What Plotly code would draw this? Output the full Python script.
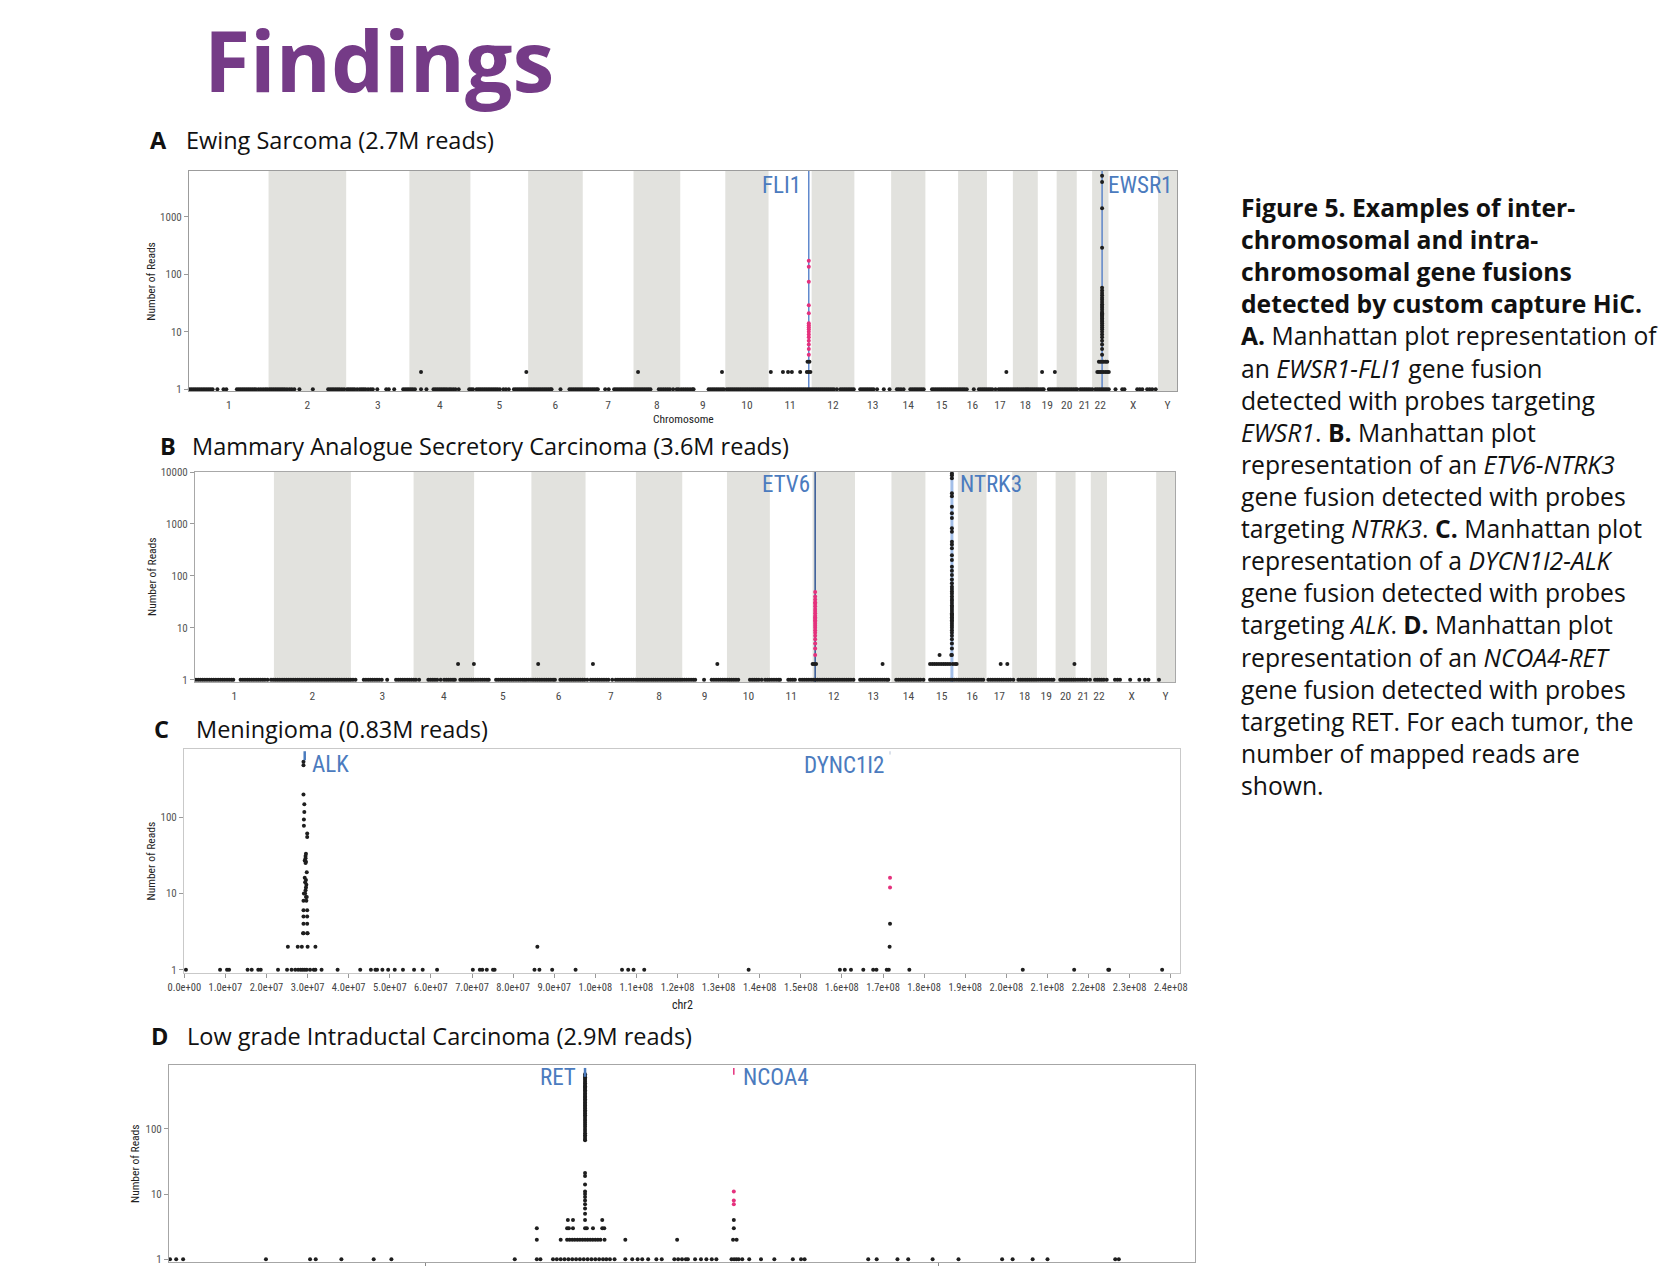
import plotly.graph_objects as go

W, H = 1670, 1266
NARROW = "Liberation Sans Narrow, Arial Narrow, Roboto Condensed, Liberation Sans, Arial, sans-serif"
BODY = "Open Sans, Lato, sans-serif"

# ---------------- data ----------------
chrom_names = [str(i) for i in range(1, 23)] + ["X", "Y"]
chrom_len_mb = [249.3, 243.2, 198.0, 191.2, 180.9, 171.1, 159.1, 146.4, 141.2, 135.5, 135.0, 133.9,
                115.2, 107.3, 102.5, 90.4, 81.2, 78.1, 59.1, 63.0, 48.1, 51.3, 155.3, 59.4]

# Panel A (genome-wide cumulative position, Mb)
A_reads1 = [2, 8, 14, 20, 26, 32, 38, 44, 50, 56, 62, 68, 74, 89, 108, 117, 150, 156, 162, 168, 174, 180, 186,
            192, 198, 204, 210, 218, 225, 232, 239, 245,
            252, 258, 264, 270, 276, 282, 288, 294, 300, 307, 315, 322, 330, 346, 388, 436, 442, 448, 454, 460,
            466, 472, 479, 486,
            495, 501, 507, 513, 519, 527, 535, 541, 547, 553, 561, 569, 576, 590, 618, 626, 643, 671, 677, 683, 689,
            695, 701, 708, 727, 744, 766, 772, 778, 784, 790, 796, 802, 808, 815, 821, 828, 835, 845,
            878, 884, 890, 901, 907, 913, 919, 925, 931, 937, 943, 949, 955, 961, 967, 974, 985, 993, 1002,
            1018, 1024, 1030, 1036, 1042, 1048, 1054, 1060,
            1066, 1072, 1078, 1084, 1090, 1096, 1102, 1108, 1114, 1120, 1126, 1132, 1136, 1164, 1192, 1198, 1204,
            1210, 1216, 1222, 1228,
            1234, 1240, 1246, 1252, 1258, 1264, 1270, 1276, 1281, 1304, 1315, 1332, 1338, 1344, 1350, 1356, 1362,
            1368, 1374, 1380, 1386,
            1392, 1398, 1404, 1410, 1416, 1422, 1428, 1434, 1440, 1446, 1472, 1479, 1486, 1493, 1500, 1507, 1517,
            1528, 1534,
            1542, 1549, 1556, 1563, 1570, 1577, 1581, 1628, 1634, 1640, 1646, 1652, 1658, 1664, 1670, 1676,
            1685, 1691, 1697, 1703, 1709, 1715, 1721, 1727, 1733, 1739, 1745, 1751, 1757, 1763, 1769, 1775, 1781,
            1787, 1793, 1799, 1805, 1811,
            1817, 1823, 1829, 1835, 1841, 1847, 1853, 1859, 1865, 1871, 1877, 1883, 1889, 1895, 1901, 1907, 1913,
            1919, 1925, 1931, 1937, 1943, 1949,
            1955, 1961, 1967, 1973, 1979, 1985, 1991, 1997, 2003, 2009, 2015, 2021, 2030, 2041, 2047, 2053, 2059,
            2065, 2071, 2077, 2083,
            2103, 2109, 2115, 2121, 2127, 2133, 2139, 2145, 2156, 2177, 2195,
            2218, 2224, 2231, 2239, 2260, 2266, 2272, 2278, 2284, 2290, 2296, 2302,
            2328, 2334, 2340, 2346, 2352, 2358, 2364, 2370, 2376, 2382, 2388, 2394, 2400, 2406,
            2412, 2418, 2424, 2430, 2437, 2459, 2475, 2481, 2487, 2493, 2499,
            2505, 2511, 2517, 2527, 2537, 2543, 2549, 2555, 2561, 2567, 2573, 2579,
            2585, 2591, 2597, 2603, 2609, 2615, 2621, 2626, 2631, 2637, 2643, 2649, 2655,
            2661, 2667, 2673, 2678, 2694, 2700, 2706, 2712,
            2718, 2724, 2730, 2736, 2742, 2748, 2754, 2760, 2766, 2772, 2778, 2783,
            2793, 2799, 2805, 2811, 2817, 2823, 2830,
            2840, 2846, 2852, 2858, 2864, 2870, 2876, 2882,
            2903, 2924, 2931, 2971, 2979, 2987, 3002, 3010, 3018, 3029]
A_reads2 = [727, 1057, 1407, 1670, 1823, 1861, 1877, 1889, 1915, 1936, 1941, 1947, 2561, 2673, 2713,
            2846, 2851, 2856, 2866, 2872, 2877, 2882]
A_reads3 = [1938, 1944, 2851, 2856, 2866, 2872, 2877]
A_probe_gene, A_probe_pos = "EWSR1", 2861
A_probe_reads = [5160, 4010, 1400, 289, 58, 52, 47, 43, 39, 36, 33, 30, 28, 26, 24, 22, 21, 20, 19, 18, 17, 16,
                 15, 14, 13, 12, 11, 10, 9, 8, 7, 6, 5, 4, 3, 2]
A_partner_gene, A_partner_pos = "FLI1", 1942
A_partner_reads = [4, 5, 6, 7, 8, 9, 10, 11, 12, 13, 14, 21, 29, 74, 135, 172]

# Panel B (genome-wide cumulative position, Mb)
B_reads1 = [3, 10, 17, 24, 31, 38, 45, 52, 59, 66, 73, 80, 87, 94, 101, 108, 115, 121,
            144, 151, 158, 165, 172, 179, 186, 193, 200, 207, 214, 221, 229,
            240, 247, 254, 261, 268, 275, 282, 289, 296, 303, 310, 317, 324, 331, 338, 345, 352, 359, 366, 373,
            380, 387, 394, 401, 408, 415, 422, 429, 436, 443, 450, 457, 464, 471, 478, 485, 492, 499, 507,
            533, 540, 547, 554, 561, 568, 575, 582, 590, 607,
            635, 642, 649, 656, 663, 670, 677, 684, 691, 698, 708,
            737, 744, 751, 758, 765, 776, 787, 794, 801, 808, 815, 821,
            838, 845, 852, 859, 866, 873, 880, 887, 894, 901, 908, 915, 922, 928,
            951, 958, 965, 972, 979, 986, 993, 1000, 1007, 1014, 1021, 1028, 1035, 1041,
            1047, 1054, 1061, 1068, 1075, 1082, 1089, 1096, 1103, 1110, 1117, 1124, 1131, 1137,
            1154, 1161, 1168, 1175, 1182, 1189, 1196, 1203, 1210, 1217, 1224, 1231, 1239,
            1250, 1257, 1264, 1271, 1278, 1285, 1292, 1299, 1306, 1318,
            1329, 1336, 1343, 1350, 1357, 1364, 1371, 1378, 1385, 1392, 1399, 1406, 1413, 1420, 1427, 1434,
            1441, 1448, 1455, 1462, 1469, 1476, 1483, 1490, 1497, 1504, 1511, 1518, 1525, 1532,
            1539, 1546, 1553, 1560, 1567, 1574, 1580, 1608,
            1632, 1639, 1646, 1653, 1660, 1667, 1674, 1681, 1688, 1695, 1702, 1709, 1716,
            1753, 1760, 1767, 1774, 1781, 1790, 1801, 1808, 1815, 1822, 1829, 1836, 1843, 1848,
            1874, 1881, 1888, 1895,
            1911, 1918, 1925, 1932, 1939, 1946, 1953, 1960, 1967, 1974, 1981, 1988, 1995, 2002, 2009, 2016,
            2023, 2030, 2037, 2044, 2051, 2058, 2065, 2072, 2080,
            2101, 2108, 2115, 2122, 2129, 2136, 2143, 2150, 2157, 2164, 2171, 2178, 2185, 2190,
            2215, 2222, 2229, 2236, 2243, 2250, 2257, 2264, 2271, 2278, 2285, 2292, 2301,
            2322, 2329, 2336, 2343, 2350, 2357, 2364, 2371, 2378, 2385, 2392, 2399, 2406, 2413, 2420, 2427,
            2434, 2441, 2448, 2455, 2462, 2469, 2476, 2483, 2490,
            2506, 2513, 2520, 2527, 2534, 2541, 2548, 2555, 2562, 2569, 2576, 2585,
            2601, 2608, 2615, 2622, 2629, 2636, 2643, 2650, 2657, 2664, 2671, 2678, 2685, 2692, 2699, 2706, 2712,
            2733, 2740, 2747, 2754, 2761, 2768, 2775, 2782, 2789, 2796, 2803, 2810, 2817, 2827,
            2843, 2850, 2857, 2864, 2871, 2880, 2906, 2914, 2922, 2954, 2983, 3001, 3012, 3045]
B_reads2 = [831, 881, 1084, 1257, 1650, 1951, 1956, 1962, 2172, 2322, 2329, 2336, 2343, 2350, 2357, 2364, 2371,
            2378, 2385, 2394, 2401, 2406, 2545, 2566, 2778]
B_reads3 = [2352, 2389]
B_probe_gene, B_probe_pos = "NTRK3", 2391
B_probe_reads = [9400, 8700, 7600, 3900, 3400, 2150, 1600, 1300, 830, 710, 455, 400, 340, 250, 203, 150, 125, 104,
                 85, 72, 62, 56, 50, 45, 40, 36, 33, 30, 27, 25, 23, 21, 19, 18, 17, 16, 15, 14, 13, 12, 11, 10,
                 9, 8, 7, 6, 5, 4, 3]
B_partner_gene, B_partner_pos = "ETV6", 1959
B_partner_reads = [3, 4, 5, 6, 7, 8, 9, 10, 11, 12, 13, 14, 15, 16, 17, 19, 21, 23, 26, 29, 31, 35, 40, 49]

# Panel C (chr2 position, Mb)
C_reads1 = [0.4, 8.7, 10.4, 10.9, 15.4, 16.4, 18.0, 18.6, 22.8, 25.0, 26.1, 27.0, 27.7, 28.3, 28.8, 29.3, 29.8,
            30.6, 31.5, 31.9, 33.4, 37.3, 42.8, 45.4, 46.5, 46.9, 48.2, 49.6, 51.2, 53.2, 55.9, 58.0, 61.5, 70.2,
            71.9, 72.5, 73.6, 75.1, 75.5, 85.2, 86.4, 89.5, 95.2, 106.5, 108.0, 109.3, 111.9, 137.3, 159.5,
            160.7, 162.2, 165.2, 167.6, 168.4, 170.9, 171.4, 176.4, 204.0, 216.5, 224.8, 225.0, 237.9]
C_reads2 = [25.2, 27.6, 28.6, 30.0, 31.9, 85.9, 171.6]
C_reads3 = [28.9, 30.0]
C_reads4 = [171.7]
C_probe_gene, C_probe_marker = "ALK", 29.3
C_probe_pos = [29.0, 29.0, 29.0, 29.2, 29.2, 29.1, 29.1, 29.9, 29.9, 29.6, 29.5, 29.5, 29.3, 29.6, 29.5, 29.8,
               29.3, 29.6, 29.4, 29.7, 29.6, 29.5, 29.1, 29.4, 29.6, 29.8, 29.0, 29.7, 29.0, 29.9, 29.0, 29.9,
               29.0, 29.9, 29.0, 29.9]
C_probe_reads = [530, 480, 198, 148, 117, 93, 77, 61, 55, 33, 31, 29, 27, 26, 25, 19, 16, 15, 14, 13, 12, 11, 10,
                 10, 9, 9, 8, 8, 6, 6, 5, 5, 4, 4, 3, 3]
C_partner_gene, C_partner_pos = "DYNC1I2", 171.7
C_partner_reads = [12, 16]
C_ticks_bp = [0, 1e7, 2e7, 3e7, 4e7, 5e7, 6e7, 7e7, 8e7, 9e7, 1e8, 1.1e8, 1.2e8, 1.3e8, 1.4e8, 1.5e8, 1.6e8,
              1.7e8, 1.8e8, 1.9e8, 2.0e8, 2.1e8, 2.2e8, 2.3e8, 2.4e8]

# Panel D (chromosome position, Mb)
D_reads1 = [30.04, 30.28, 30.55, 33.78, 35.50, 35.72, 36.72, 37.98, 38.67, 43.48, 44.34, 44.48, 44.97, 45.12,
            45.27, 45.42, 45.57, 45.72, 45.87, 46.02, 46.17, 46.32, 46.47, 46.62, 46.77, 46.92, 47.05, 47.19,
            47.37, 47.79, 48.06, 48.27, 48.45, 48.68, 49.0, 49.21, 49.70, 49.85, 50.0, 50.15, 50.23, 50.51,
            50.74, 50.95, 51.16, 51.34, 51.93, 52.03, 52.12, 52.21, 52.35, 52.62, 53.08, 53.6, 54.32, 54.64,
            54.78, 57.26, 57.59, 58.40, 58.82, 59.77, 60.78, 62.48, 62.89, 63.67, 64.25, 66.89, 67.03]
D_reads2 = [44.34, 45.27, 45.52, 45.62, 45.72, 45.82, 45.92, 46.02, 46.12, 46.32, 46.42, 46.52, 46.62, 46.72,
            46.82, 46.98, 47.79, 49.81, 51.99, 52.13]
D_reads3 = [44.34, 45.52, 45.59, 45.75, 46.29, 46.53, 46.89, 46.97, 52.02]
D_reads4 = [45.55, 45.75, 46.89, 52.02]
D_probe_gene, D_probe_pos = "RET", 46.22
D_probe_reads = [690, 650, 620, 590, 560, 530, 500, 470, 450, 430, 410, 390, 370, 350, 330, 315, 300, 285, 270,
                 255, 240, 228, 216, 205, 194, 183, 172, 162, 152, 142, 133, 124, 116, 108, 100, 93, 86, 80, 75,
                 70, 67, 21, 19, 14, 11, 10, 9, 8, 7, 6, 5, 4, 3, 2]
D_partner_gene, D_partner_pos = "NCOA4", 52.02
D_partner_reads = [7, 8, 11]
D_ticks_mb = [40, 60]

headings = [("A", "Ewing Sarcoma (2.7M reads)"),
            ("B", "Mammary Analogue Secretory Carcinoma (3.6M reads)"),
            ("C", "Meningioma (0.83M reads)"),
            ("D", "Low grade Intraductal Carcinoma (2.9M reads)")]

caption_lines = [
    "<b>Figure 5. Examples of inter-</b>",
    "<b>chromosomal and intra-</b>",
    "<b>chromosomal gene fusions</b>",
    "<b>detected by custom capture HiC.</b>",
    "<b>A.</b> Manhattan plot representation of",
    "an <i>EWSR1-FLI1</i> gene fusion",
    "detected with probes targeting",
    "<i>EWSR1</i>. <b>B.</b> Manhattan plot",
    "representation of an <i>ETV6-NTRK3</i>",
    "gene fusion detected with probes",
    "targeting <i>NTRK3</i>. <b>C.</b> Manhattan plot",
    "representation of a <i>DYCN1I2-ALK</i>",
    "gene fusion detected with probes",
    "targeting <i>ALK</i>. <b>D.</b> Manhattan plot",
    "representation of an <i>NCOA4-RET</i>",
    "gene fusion detected with probes",
    "targeting RET. For each tumor, the",
    "number of mapped reads are",
    "shown.",
]

# ---------------- derived genome layout ----------------
chrom_start = []
acc = 0.0
for L in chrom_len_mb:
    chrom_start.append(acc)
    acc += L
genome_total = acc
chrom_mid = [s + L / 2 for s, L in zip(chrom_start, chrom_len_mb)]

# ---------------- figure ----------------
BLACK = "#1e1e1e"
PINK = "#e5317d"
BAND = "#e2e2de"
LABEL_BLUE = "#4b7bbe"

fig = go.Figure()


def fx(px):
    return px / W


def fy(py):
    return 1 - py / H


def add_pts(xs, ys, color, k):
    fig.add_trace(go.Scatter(
        x=xs, y=ys, mode="markers",
        marker=dict(size=4, color=color, line=dict(width=0)),
        xaxis="x" if k == 1 else f"x{k}", yaxis="y" if k == 1 else f"y{k}",
        cliponaxis=False, hoverinfo="skip", showlegend=False))


def black_points(r1, r2, r3, probe_x, probe_reads, r4=()):
    xs = list(r1) + list(r2) + list(r3) + list(r4)
    ys = [1] * len(r1) + [2] * len(r2) + [3] * len(r3) + [4] * len(r4)
    if isinstance(probe_x, (list, tuple)):
        xs += list(probe_x)
    else:
        xs += [probe_x] * len(probe_reads)
    ys += list(probe_reads)
    return xs, ys


xs, ys = black_points(A_reads1, A_reads2, A_reads3, A_probe_pos, A_probe_reads)
add_pts(xs, ys, BLACK, 1)
add_pts([A_partner_pos] * len(A_partner_reads), A_partner_reads, PINK, 1)
xs, ys = black_points(B_reads1, B_reads2, B_reads3, B_probe_pos, B_probe_reads)
add_pts(xs, ys, BLACK, 2)
add_pts([B_partner_pos] * len(B_partner_reads), B_partner_reads, PINK, 2)
xs, ys = black_points(C_reads1, C_reads2, C_reads3, C_probe_pos, C_probe_reads, C_reads4)
add_pts(xs, ys, BLACK, 3)
add_pts([C_partner_pos] * len(C_partner_reads), C_partner_reads, PINK, 3)
xs, ys = black_points(D_reads1, D_reads2, D_reads3, D_probe_pos, D_probe_reads, D_reads4)
add_pts(xs, ys, BLACK, 4)
add_pts([D_partner_pos] * len(D_partner_reads), D_partner_reads, PINK, 4)

# panel boxes (pixel geometry: left, right, top, bottom)
boxes = {1: (189, 1177, 171, 391), 2: (195, 1175, 472, 682), 3: (184, 1180, 749, 973), 4: (169, 1195, 1065, 1262)}
yranges = {1: [-0.03, 3.794], 2: [-0.044, 4.0], 3: [-0.043, 2.893], 4: [-0.041, 2.98]}
ytv = {1: [1, 10, 100, 1000], 2: [1, 10, 100, 1000, 10000], 3: [1, 10, 100], 4: [1, 10, 100]}
frame = {1: "#9c9c9c", 2: "#a8a8a8", 3: "#c9c9c9", 4: "#a6a6a6"}

tickfont = dict(family=NARROW, size=11, color="#555555")
layout_axes = {}
for k, (l, r, t, b) in boxes.items():
    xn = "xaxis" if k == 1 else f"xaxis{k}"
    yn = "yaxis" if k == 1 else f"yaxis{k}"
    xa = dict(domain=[fx(l), fx(r)], anchor="y" if k == 1 else f"y{k}", showgrid=False, zeroline=False,
              showline=True, linecolor=frame[k], linewidth=1, mirror=True, tickfont=tickfont, automargin=False)
    if k in (1, 2):
        xa.update(range=[0, genome_total], tickmode="array", tickvals=chrom_mid, ticktext=chrom_names,
                  ticks="outside", ticklen=3, tickcolor="rgba(0,0,0,0)",
                  tickfont=dict(family=NARROW, size=11.5, color="#4a4a4a"))
    elif k == 3:
        xa.update(range=[-0.07, 242.25], tickmode="array", tickvals=[v / 1e6 for v in C_ticks_bp],
                  ticktext=[f"{v:.1e}" for v in C_ticks_bp], ticks="outside", ticklen=4, tickcolor="#999999",
                  tickfont=dict(family=NARROW, size=10.5, color="#444444"))
    else:
        xa.update(range=[30, 70], tickmode="array", tickvals=D_ticks_mb, ticktext=["", ""],
                  ticks="outside", ticklen=6, tickcolor="#888888", showticklabels=False)
    ya = dict(domain=[fy(b), fy(t)], anchor="x" if k == 1 else f"x{k}", type="log", range=yranges[k],
              tickmode="array", tickvals=ytv[k], ticktext=[str(v) for v in ytv[k]], ticks="outside",
              ticklen=4, tickcolor="#9a9a9a", showgrid=False, zeroline=False, showline=True,
              linecolor=frame[k], linewidth=1, mirror=True, tickfont=tickfont, automargin=False,
              ticklabeloverflow="allow")
    layout_axes[xn] = xa
    layout_axes[yn] = ya

shapes = []
for k in (1, 2):
    xr = "x" if k == 1 else f"x{k}"
    yr = "y domain" if k == 1 else f"y{k} domain"
    for i, (s, L) in enumerate(zip(chrom_start, chrom_len_mb)):
        if i % 2 == 1:
            shapes.append(dict(type="rect", xref=xr, yref=yr, x0=s, x1=s + L, y0=0, y1=1,
                               fillcolor=BAND, line=dict(width=0), layer="below"))
shapes += [
    dict(type="line", xref="x", yref="y domain", x0=A_partner_pos, x1=A_partner_pos, y0=0, y1=1,
         line=dict(color="#4877c6", width=1.3), layer="below"),
    dict(type="line", xref="x", yref="y domain", x0=A_probe_pos, x1=A_probe_pos, y0=0, y1=1,
         line=dict(color="#4877c6", width=1.3), layer="below"),
    dict(type="line", xref="x2", yref="y2 domain", x0=B_partner_pos, x1=B_partner_pos, y0=0, y1=1,
         line=dict(color="#3c5f99", width=1.6), layer="below"),
    dict(type="line", xref="x2", yref="y2 domain", x0=B_probe_pos, x1=B_probe_pos, y0=0, y1=1,
         line=dict(color="#a3bfe9", width=3), layer="below"),
    dict(type="line", xref="x3", yref="y3 domain", x0=C_probe_marker, x1=C_probe_marker, y0=0.95, y1=0.99,
         line=dict(color="#4b7bbe", width=2.5, dash="dash"), layer="above"),
    dict(type="line", xref="x3", yref="y3 domain", x0=C_partner_pos, x1=C_partner_pos, y0=0.975, y1=0.99,
         line=dict(color="#b9c6d8", width=1), layer="above"),
    dict(type="line", xref="x4", yref="y4 domain", x0=D_probe_pos, x1=D_probe_pos, y0=0.94, y1=0.985,
         line=dict(color="#4b7bbe", width=2.5), layer="above"),
    dict(type="line", xref="x4", yref="y4 domain", x0=D_partner_pos, x1=D_partner_pos, y0=0.95, y1=0.985,
         line=dict(color=PINK, width=1.5), layer="above"),
]

ann = []
ann.append(dict(text="<b>Findings</b>", x=fx(202), y=1, xref="paper", yref="paper", xanchor="left",
                yanchor="top", showarrow=False, font=dict(family=BODY, size=84, color="#753b87")))
head_pos = [(148.4, 183.6, 140.0), (157.6, 189.6, 446.0), (152.3, 193.8, 728.8), (149.0, 185.3, 1035.6)]
for (letter, text), (lx, tx, cy) in zip(headings, head_pos):
    ann.append(dict(text=f"<b>{letter}</b>", x=fx(lx), y=fy(cy), xref="paper", yref="paper", xanchor="left",
                    yanchor="middle", showarrow=False, font=dict(family=BODY, size=23.5, color="#111111")))
    ann.append(dict(text=text, x=fx(tx), y=fy(cy), xref="paper", yref="paper", xanchor="left",
                    yanchor="middle", showarrow=False, font=dict(family=BODY, size=23.5, color="#111111")))
for cx, cy in [(150.7, 281), (152, 577), (151.4, 861), (135, 1164)]:
    ann.append(dict(text="Number of Reads", x=fx(cx), y=fy(cy), xref="paper", yref="paper", textangle=-90,
                    xanchor="center", yanchor="middle", showarrow=False,
                    font=dict(family=NARROW, size=11.5, color="#222222")))
ann.append(dict(text="Chromosome", x=fx(683), y=fy(419), xref="paper", yref="paper", showarrow=False,
                xanchor="center", yanchor="middle", font=dict(family=NARROW, size=11.5, color="#222222")))
ann.append(dict(text="chr2", x=fx(682), y=fy(1005), xref="paper", yref="paper", showarrow=False,
                xanchor="center", yanchor="middle", font=dict(family=NARROW, size=12, color="#222222")))
gene_font = dict(family=NARROW, size=23, color=LABEL_BLUE)
gene_labels = [
    ("x", A_partner_gene, A_partner_pos, "right", -6, 185.5),
    ("x", A_probe_gene, A_probe_pos, "left", 4, 185.5),
    ("x2", B_partner_gene, B_partner_pos, "right", -3, 484.3),
    ("x2", B_probe_gene, B_probe_pos, "left", 6, 484.3),
    ("x3", C_probe_gene, C_probe_marker, "left", 5, 764),
    ("x3", C_partner_gene, C_partner_pos, "right", -4, 765),
    ("x4", D_probe_gene, D_probe_pos, "right", -7, 1077),
    ("x4", D_partner_gene, D_partner_pos, "left", 7, 1077.5),
]
for xr, name, pos, anc, shift, cy in gene_labels:
    ann.append(dict(text=name, x=pos, xref=xr, y=fy(cy), yref="paper", xanchor=anc, yanchor="middle",
                    xshift=shift, showarrow=False, font=gene_font))
# caption (single block, line pitch = 1.3 x font size = ~32 px)
CAP_SIZE = 24.7
ann.append(dict(text="<br>".join(caption_lines), x=fx(1239), y=fy(215 - 1.069 * CAP_SIZE), xref="paper",
                yref="paper", xanchor="left", yanchor="top", align="left", showarrow=False,
                font=dict(family=BODY, size=CAP_SIZE, color="#111111")))

fig.update_layout(width=W, height=H, autosize=False, margin=dict(l=0, r=0, t=0, b=0, pad=0),
                  paper_bgcolor="white", plot_bgcolor="white", shapes=shapes, annotations=ann,
                  showlegend=False, **layout_axes)

fig.write_html("out.html", config={"displayModeBar": False, "staticPlot": True},
               post_script="document.body.style.margin='0';document.documentElement.style.overflow='hidden';")
